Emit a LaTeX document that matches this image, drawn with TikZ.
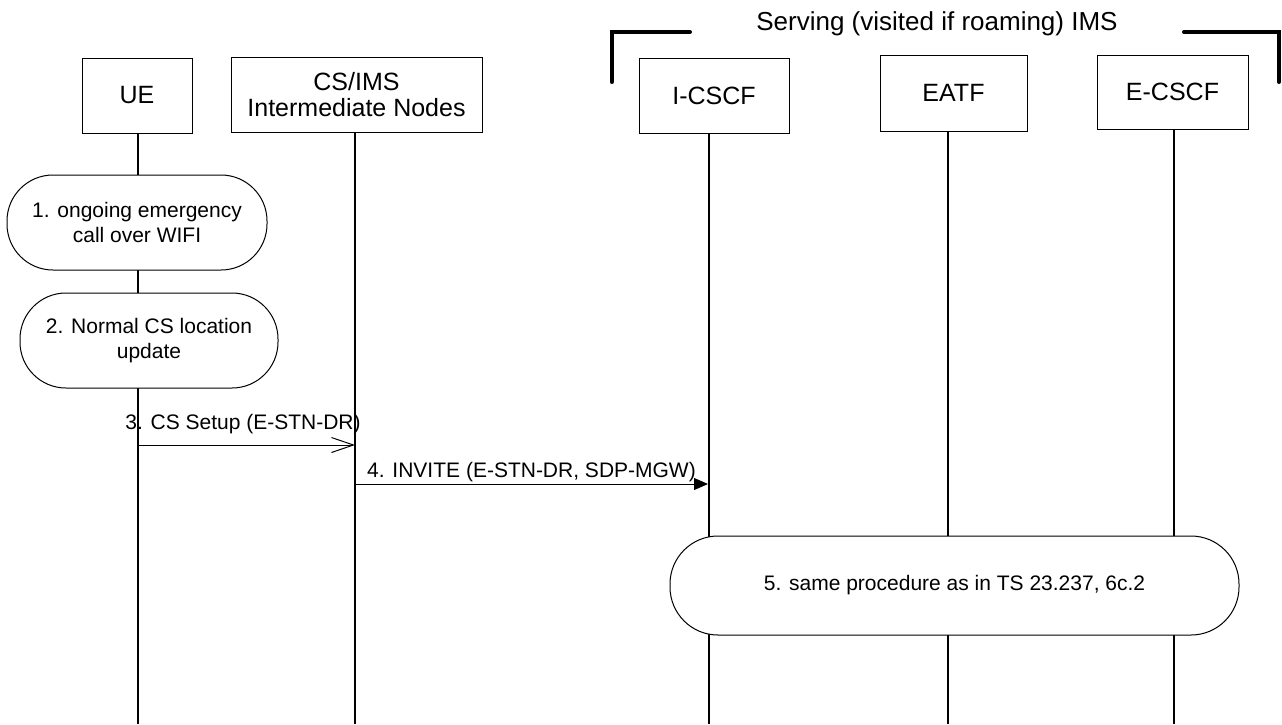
\documentclass[tikz,border=0pt]{standalone}
\usepackage{fontspec}
\setmainfont{Liberation Sans}
\usetikzlibrary{arrows.meta}
\begin{document}
\begin{tikzpicture}[x=1pt,y=-1pt,
  entity/.style={draw=black, line width=1pt, fill=white, align=center, inner sep=0pt,
    font=\fontsize{25}{26}\selectfont},
  life/.style={draw=black, line width=2pt},
  proc/.style={draw=black, line width=1pt, fill=white, rounded corners=46pt, align=center,
    inner sep=0pt, font=\fontsize{21}{25}\selectfont},
  msglabel/.style={font=\fontsize{21}{25}\selectfont, inner sep=0pt},
  msgline/.style={draw=black, line width=1pt},
  bracketline/.style={draw=black, line width=4pt, line cap=round}
]
\useasboundingbox (0,0) rectangle (1282,724);
\fill[white] (0,0) rectangle (1282,724);

% heading and brackets
\node[font=\fontsize{26}{30}\selectfont, inner sep=0pt, anchor=base] (head) at (937,30) {Serving (visited if roaming) IMS};
\draw[bracketline] (611.7,82) -- (611.7,32) -- (690,32);
\draw[bracketline] (1184,32) -- (1279,32) -- (1279,82);

% entities
\node[entity, minimum width=110pt, minimum height=75pt] (ue) at (137,95.5) {UE};
\node[entity, minimum width=251pt, minimum height=75pt] (cs) at (356.5,94.5) {CS/IMS\\Intermediate Nodes};
\node[entity, minimum width=150pt, minimum height=75pt] (icscf) at (714,95.5) {I-CSCF};
\node[entity, minimum width=147pt, minimum height=76pt] (eatf) at (953.5,93) {EATF};
\node[entity, minimum width=151pt, minimum height=74pt] (ecscf) at (1172.5,92) {E-CSCF};

% lifeline ends
\coordinate (ueEnd) at (137.5,724);
\coordinate (csEnd) at (355,724);
\coordinate (icEnd) at (709,724);
\coordinate (eaEnd) at (948,724);
\coordinate (ecEnd) at (1174,724);

\draw[life] (ue.south -| ueEnd) -- (ueEnd);
\draw[life] (cs.south -| csEnd) -- (csEnd);
\draw[life] (icscf.south -| icEnd) -- (icEnd);
\draw[life] (eatf.south -| eaEnd) -- (eaEnd);
\draw[life] (ecscf.south -| ecEnd) -- (ecEnd);

% procedure boxes
\node[proc, minimum width=260pt, minimum height=95pt] (p1) at (137,222.5) {1. ongoing emergency\\call over WIFI};
\node[proc, minimum width=258pt, minimum height=95pt] (p2) at (149,340.5) {2. Normal CS location\\update};
\node[proc, minimum width=569pt, minimum height=99pt, rounded corners=48pt] (p5) at (954.5,585.5) {5. same procedure as in TS 23.237, 6c.2};

% messages
\coordinate (m3a) at (137.5,445);
\coordinate (m3b) at (355,445);
\draw[msgline, -{Straight Barb[length=22pt, width=15pt, line width=1pt]}] (m3a) -- (m3b);
\node[msglabel, anchor=base] (l3) at (243,429) {3. CS Setup (E-STN-DR)};

\coordinate (m4a) at (355,484);
\coordinate (m4b) at (708,484);
\draw[msgline, -{Triangle[length=14pt, width=12pt]}] (m4a) -- (m4b);
\node[msglabel, anchor=base] (l4) at (531.5,477) {4. INVITE (E-STN-DR, SDP-MGW)};
\end{tikzpicture}
\end{document}
